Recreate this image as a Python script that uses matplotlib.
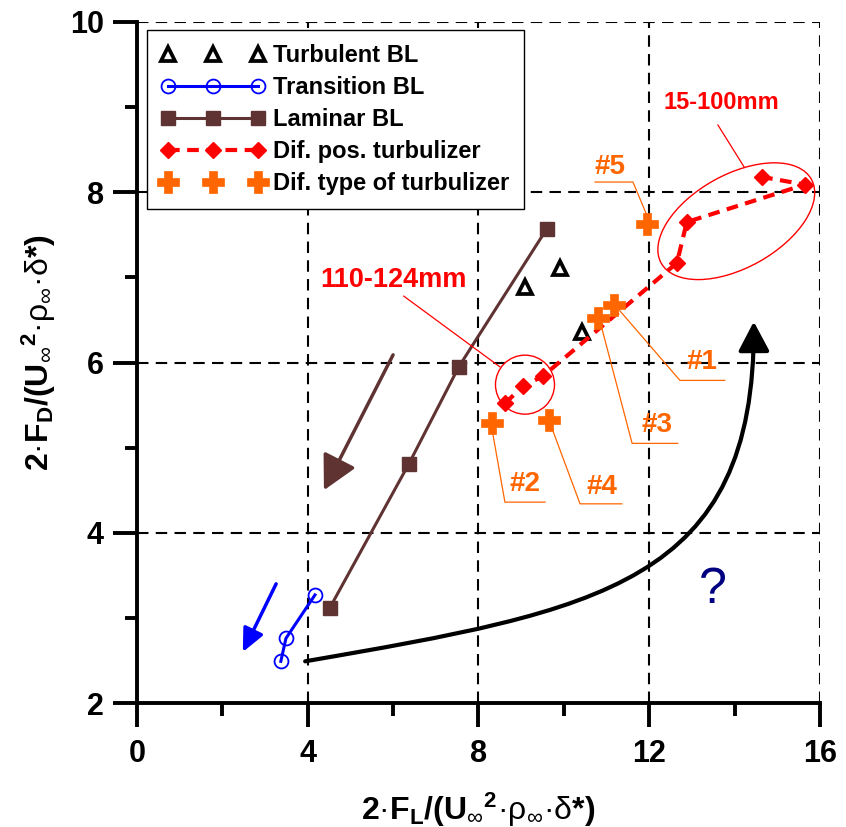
import numpy as np
import matplotlib
matplotlib.use('Agg')
import matplotlib.pyplot as plt
from matplotlib.patches import Ellipse, FancyArrowPatch
from matplotlib.path import Path
from matplotlib.transforms import ScaledTranslation

plt.rcParams['font.family'] = ['Liberation Sans', 'DejaVu Sans']
plt.rcParams['mathtext.fontset'] = 'custom'
plt.rcParams['mathtext.rm'] = 'Liberation Sans'
plt.rcParams['mathtext.bf'] = 'Liberation Sans:bold'
plt.rcParams['mathtext.it'] = 'Liberation Sans:italic'
plt.rcParams['mathtext.default'] = 'rm'

# data
turb_x = [9.09, 9.91, 10.42]
turb_y = [6.89, 7.11, 6.36]
trans_x = [3.37, 3.49, 4.17]
trans_y = [2.49, 2.76, 3.27]
lam_x = [4.52, 6.37, 7.54, 9.60]
lam_y = [3.12, 4.81, 5.95, 7.57]
pos_x = [8.62, 9.04, 9.51, 12.65, 12.88, 15.65, 14.64]
pos_y = [5.52, 5.72, 5.84, 7.17, 7.65, 8.09, 8.18]
type_names = ['#1', '#2', '#3', '#4', '#5']
type_x = [11.18, 8.31, 10.81, 9.65, 11.95]
type_y = [6.68, 5.29, 6.52, 5.32, 7.63]

# label position and leader line for each turbulizer type
type_text_xy = [(13.24, 6.01), (9.09, 4.57), (12.18, 5.27), (10.89, 4.54), (11.08, 8.30)]
type_leaders = [
    ([13.77, 12.72, 11.24], [5.79, 5.79, 6.65]),
    ([9.56, 8.62, 8.32], [4.36, 4.36, 5.21]),
    ([12.67, 11.60, 10.85], [5.05, 5.05, 6.48]),
    ([11.36, 10.38, 9.72], [4.34, 4.34, 5.23]),
    ([10.73, 11.62, 11.97], [8.12, 8.12, 7.70]),
]

brown = '#603333'
orange = '#ff6600'

fig = plt.figure(figsize=(8.46, 8.27), dpi=100)
ax = fig.add_axes([0.1619, 0.1499, 0.8073, 0.8235])

ax.plot(turb_x, turb_y, ls='none', marker='^', ms=10, mfc='white', mec='black',
        mew=2.7, label='Turbulent BL')
ax.plot(trans_x, trans_y, color='blue', lw=2.2, marker='o', ms=10, mfc='none',
        mec='blue', mew=1.3, label='Transition BL')
ax.plot(lam_x, lam_y, color=brown, lw=2.2, marker='s', ms=9.5, mfc=brown, mec=brown,
        label='Laminar BL')
ax.plot(pos_x, pos_y, color='red', lw=3, ls=(0, (2.8, 1.8)), marker='D', ms=8.5,
        mfc='red', mec='red', label='Dif. pos. turbulizer')
ax.plot(type_x, type_y, ls='none', marker='P', ms=15.5, mfc=orange, mec=orange, mew=0.5,
        label='Dif. type of turbulizer')

for name, (tx, ty), (lx, ly) in zip(type_names, type_text_xy, type_leaders):
    ax.plot(lx, ly, color=orange, lw=0.9)
    ax.text(tx, ty, name, color=orange, fontsize=20, fontweight='bold',
            ha='center', va='center')

# circled groups
ax.add_patch(Ellipse((0, 0), 0.59, 0.59, fill=False, ec='red', lw=1,
                     transform=fig.dpi_scale_trans + ScaledTranslation(9.09, 5.74, ax.transData)))
ax.add_patch(Ellipse((0, 0), 1.72, 0.93, angle=29.2, fill=False, ec='red', lw=1,
                     transform=fig.dpi_scale_trans + ScaledTranslation(14.04, 7.66, ax.transData)))
ax.plot([6.25, 8.50], [6.78, 5.95], color='red', lw=0.9)
ax.plot([13.61, 14.22], [8.79, 8.30], color='red', lw=0.9)
ax.text(6.00, 6.97, '110-124mm', color='red', fontsize=19.5, fontweight='bold',
        ha='center', va='center')
ax.text(13.70, 9.05, '15-100mm', color='red', fontsize=17, fontweight='bold',
        ha='center', va='center')

# direction arrows
ax.add_patch(FancyArrowPatch((6.00, 6.09), (4.38, 4.50), arrowstyle='-|>,head_length=21,head_width=11',
                             mutation_scale=1, color=brown, lw=2.5, shrinkA=0, shrinkB=0))
ax.add_patch(FancyArrowPatch((3.26, 3.40), (2.48, 2.60), arrowstyle='-|>,head_length=14,head_width=6.5',
                             mutation_scale=1, color='blue', lw=2.5, shrinkA=0, shrinkB=0))
curve = Path([(3.94, 2.49), (10.85, 3.09), (14.48, 3.40), (14.45, 6.48)],
             [Path.MOVETO, Path.CURVE4, Path.CURVE4, Path.CURVE4])
ax.add_patch(FancyArrowPatch(path=curve, arrowstyle='-|>,head_length=18,head_width=9.5',
                             mutation_scale=1, color='black', lw=3, shrinkA=0, shrinkB=0))
ax.text(13.49, 3.33, '?', color='#000080', fontsize=36, ha='center', va='center')

ax.set_xlim(0, 16)
ax.set_ylim(2, 10)
ax.set_xticks([0, 4, 8, 12, 16])
ax.set_xticks([2, 6, 10, 14], minor=True)
ax.set_yticks([2, 4, 6, 8, 10])
ax.set_yticks([3, 5, 7, 9], minor=True)
ax.grid(True, which='major', color='black', lw=1.5, ls=(0, (5.5, 3.5)))
ax.set_axisbelow(True)
for s in ['top', 'right']:
    ax.spines[s].set_visible(False)
for s in ['left', 'bottom']:
    ax.spines[s].set_linewidth(2.8)
ax.tick_params(which='major', direction='out', length=17, width=2.8, pad=7,
               labelsize=22)
ax.tick_params(axis='x', which='major', pad=9)
ax.tick_params(which='minor', direction='out', length=9, width=2.8)
for lbl in ax.get_xticklabels() + ax.get_yticklabels():
    lbl.set_fontweight('bold')

ax.set_xlabel('$\\mathbf{2}\u00b7\\mathbf{F}_{\\mathbf{L}}\\mathbf{/(U}_{\\infty}{}^{\\mathbf{2}}'
              '\u00b7\\rho_{\\infty}\u00b7\\delta\\mathbf{*)}$', fontsize=23)
ax.set_ylabel('$\\mathbf{2}\u00b7\\mathbf{F}_{\\mathbf{D}}\\mathbf{/(U}_{\\infty}{}^{\\mathbf{2}}'
              '\u00b7\\rho_{\\infty}\u00b7\\delta\\mathbf{*)}$', fontsize=23)
ax.xaxis.set_label_coords(0.499, -0.128)
ax.yaxis.set_label_coords(-0.115, 0.514)

leg = ax.legend(loc='upper left', bbox_to_anchor=(0.0146, 0.988), borderaxespad=0,
                numpoints=3, handlelength=4.4, handletextpad=0.35, labelspacing=0.38,
                borderpad=0.6, fancybox=False, framealpha=1,
                prop={'weight': 'bold', 'size': 17})
leg.get_frame().set_edgecolor('black')
leg.get_frame().set_linewidth(1)

fig.savefig('out.png', dpi=100)
